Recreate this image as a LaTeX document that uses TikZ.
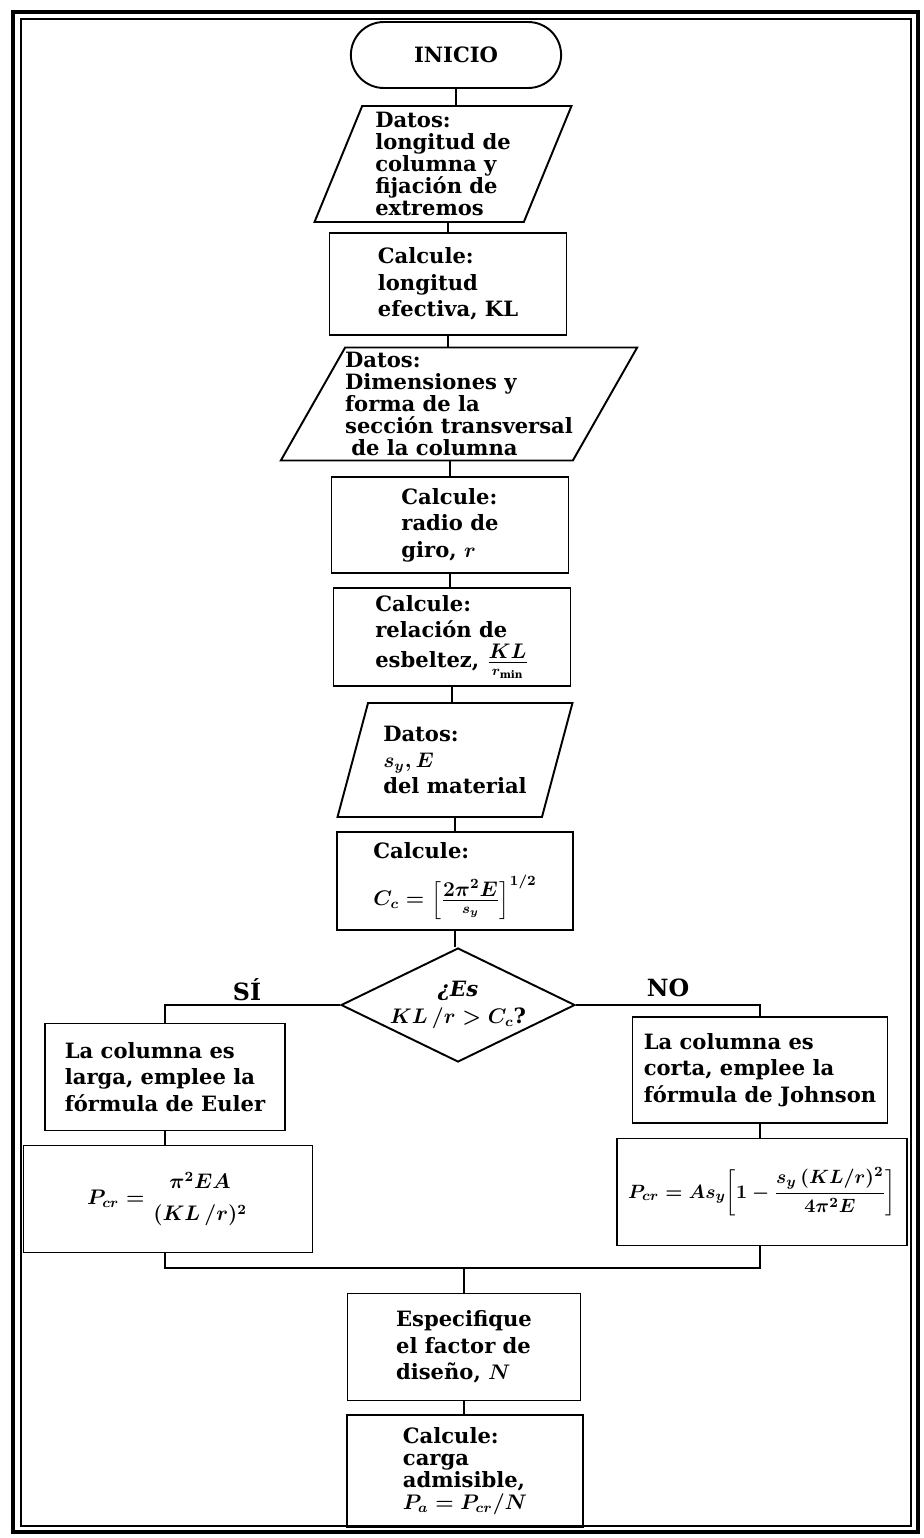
\documentclass[tikz,border=0pt]{standalone}
\usepackage{amsmath}
\usepackage{fontspec}
\setmainfont{DejaVu Serif}
\usetikzlibrary{shapes.geometric,shapes.misc}

\newcommand{\letranormal}{\fontsize{12}{15}\selectfont\bfseries\boldmath}
\newcommand{\letrajunta}{\fontsize{12}{12.5}\selectfont\bfseries\boldmath}

\tikzset{
  caja/.style={draw, rectangle, align=left, inner sep=2pt},
  inicio/.style={draw, rounded rectangle, minimum width=4.44cm, minimum height=1.32cm},
  datos/.style={draw, trapezium, trapezium stretches body, align=left, inner xsep=0pt, inner ysep=1pt},
  pregunta/.style={draw, diamond, aspect=2.05, align=center, inner sep=0pt},
  etiqueta/.style={font=\fontsize{13.5}{15}\selectfont\bfseries}
}

\begin{document}
\begin{tikzpicture}[x=0.02cm, y=-0.02cm, line width=1.1pt, font=\letranormal]
    \useasboundingbox (0,0) rectangle (923,1538);
    \draw[line width=2.8pt] (13,12) rectangle (918,1532); % outer frame
    \draw[line width=1pt] (21,19) rectangle (911,1526); % inner frame

    \node[inicio] (inicio) at (456,55) {INICIO};
    \node[datos, trapezium left angle=66, trapezium right angle=114, minimum width=5.14cm, minimum height=2.32cm, font=\letrajunta] (datos1) at (443,164) {Datos:\\longitud de\\columna y\\fijación de\\extremos};
    \node[caja, minimum width=4.74cm, minimum height=2.04cm] (calc1) at (448,284) {Calcule:\\longitud\\efectiva, KL};
    \node[datos, trapezium left angle=59, trapezium right angle=121, minimum width=6.96cm, minimum height=2.26cm, font=\letrajunta] (datos2) at (459,404) {Datos:\\Dimensiones y\\forma de la\\sección transversal\\\hspace*{.3em}de la columna};
    \node[caja, minimum width=4.74cm, minimum height=1.92cm] (calc2) at (450,525) {Calcule:\\radio de\\giro, $r$};
    \node[caja, minimum width=4.74cm, minimum height=1.96cm] (calc3) at (452,637) {Calcule:\\relación de\\[2pt]esbeltez, $\frac{\textstyle KL}{r_{\min}}$};
    \node[datos, trapezium left angle=67, trapezium right angle=113, minimum width=4.7cm, minimum height=2.28cm] (datos3) at (455,760) {Datos:\\$s_y, E$\\del material};
    \node[caja, minimum width=4.72cm, minimum height=1.96cm] (calc4) at (455,881) {Calcule:\\[8pt]$C_c = \left[\frac{\textstyle 2\pi^2E}{s_y}\right]^{1/2}$};
    \node[pregunta, minimum width=4.68cm, minimum height=2.28cm] (decision) at (458,1005) {\itshape ¿Es\\$KL\,/r > C_c$?};

    \node[caja, minimum width=4.8cm, minimum height=2.14cm] (euler) at (165,1077) {La columna es\\larga, emplee la\\fórmula de Euler};
    \node[caja, minimum width=5.1cm, minimum height=2.12cm] (johnson) at (760,1070) {La columna es\\corta, emplee la\\fórmula de Johnson};
    \node[caja, minimum width=5.78cm, minimum height=2.14cm] (eulerf) at (168,1199) {$P_{cr} = \genfrac{}{}{0pt}{0}{\pi^2EA}{(KL\,/r)^2}$};
    \node[caja, minimum width=5.8cm, minimum height=2.14cm, font=\fontsize{11}{13}\selectfont\bfseries\boldmath] (johnsonf) at (762,1192) {$P_{cr} = As_y\!\left[1-\dfrac{s_y\,(KL/r)^2}{4\pi^2E}\right]$};

    \node[caja, minimum width=4.66cm, minimum height=2.14cm] (factor) at (464,1347) {Especifique\\el factor de\\diseño, $N$};
    \node[caja, minimum width=4.72cm, minimum height=2.24cm, font=\letrajunta] (carga) at (465,1471) {Calcule:\\carga\\admisible,\\$P_a = P_{cr}/N$};

    \node[etiqueta] (si) at (247,990) {SÍ};
    \node[etiqueta] (no) at (668,988) {NO};

    \draw (inicio.south) -- (inicio.south |- datos1.north); % main column
    \draw (calc1.north |- datos1.south) -- (calc1.north);
    \draw (calc1.south) -- (calc1.south |- datos2.north);
    \draw (calc2.north |- datos2.south) -- (calc2.north);
    \draw (calc2.south) -- (calc2.south |- calc3.north);
    \draw (calc3.south) -- (calc3.south |- datos3.north);
    \draw (calc4.north |- datos3.south) -- (calc4.north);
    \draw (calc4.south) -- (calc4.south |- decision.north);
    \draw (decision.west) -| (euler.north); % yes branch
    \draw (decision.east) -| (johnson.north); % no branch
    \draw (euler.south) -- (euler.south |- eulerf.north);
    \draw (johnson.south) -- (johnson.south |- johnsonf.north);
    \coordinate (junta) at (464,1268);
    \draw (euler.south |- eulerf.south) |- (junta) -| (johnson.south |- johnsonf.south); % branches meet
    \draw (junta) -- (factor.north);
    \draw (factor.south) -- (factor.south |- carga.north);
\end{tikzpicture}
\end{document}
